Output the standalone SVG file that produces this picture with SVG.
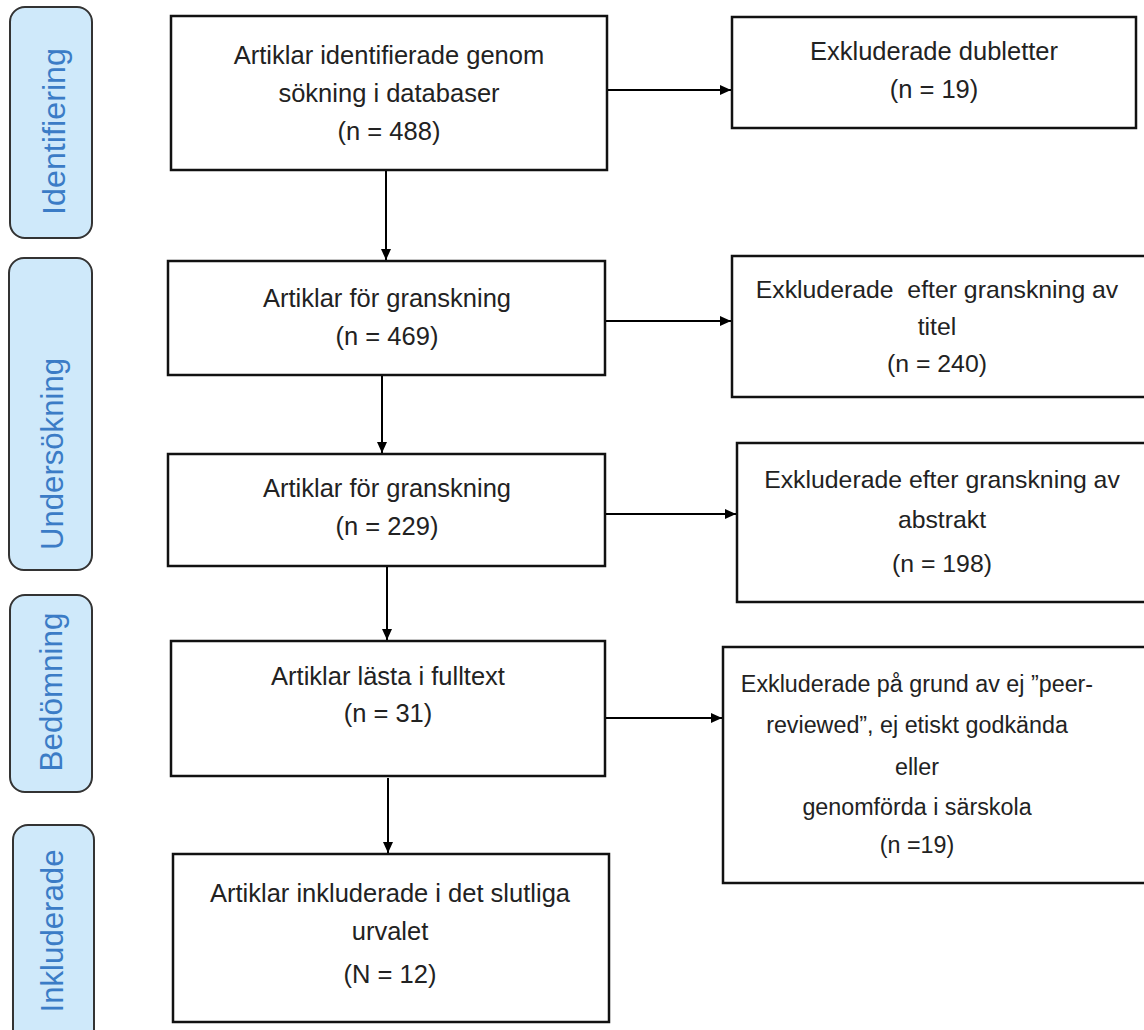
<svg xmlns="http://www.w3.org/2000/svg" width="1144" height="1030" viewBox="0 0 1144 1030">
<defs>
<style>
.box{fill:#fff;stroke:#111;stroke-width:2.5}
.lab{fill:#cfe9fa;stroke:#333;stroke-width:2}
.t{font-family:"Liberation Sans",Arial,sans-serif;font-size:25.5px;fill:#222;text-anchor:middle}
.s{font-size:24.8px}
.xs{font-size:23.3px}
.lt{font-family:"Liberation Sans",Arial,sans-serif;font-size:32px;fill:#3b7cc6;text-anchor:middle}
.c{stroke:#000;stroke-width:2;fill:none;marker-end:url(#ah)}
</style>
<marker id="ah" markerUnits="userSpaceOnUse" markerWidth="12" markerHeight="10" refX="11" refY="5" orient="auto">
<path d="M0,0 L11,5 L0,10 z" fill="#000"/>
</marker>
</defs>
<rect width="1144" height="1030" fill="#fff"/>

<g id="label-identifiering">
<rect class="lab" x="10" y="7" width="82" height="231" rx="15"/>
<text class="lt" transform="translate(65,131.5) rotate(-90)" textLength="167" lengthAdjust="spacingAndGlyphs">Identifiering</text>
</g>
<g id="label-undersokning">
<rect class="lab" x="9" y="258" width="83" height="312" rx="15"/>
<text class="lt" transform="translate(63,454) rotate(-90)" textLength="192" lengthAdjust="spacingAndGlyphs">Undersökning</text>
</g>
<g id="label-bedomning">
<rect class="lab" x="10" y="595" width="82" height="197" rx="15"/>
<text class="lt" transform="translate(62,692) rotate(-90)" textLength="159" lengthAdjust="spacingAndGlyphs">Bedömning</text>
</g>
<g id="label-inkluderade">
<rect class="lab" x="13" y="825" width="81" height="225" rx="15"/>
<text class="lt" transform="translate(63,931) rotate(-90)" textLength="163" lengthAdjust="spacingAndGlyphs">Inkluderade</text>
</g>

<g id="box1">
<rect class="box" x="171" y="16" width="436" height="154"/>
<text class="t" x="389" y="64">Artiklar identifierade genom</text>
<text class="t" x="389" y="102">sökning i databaser</text>
<text class="t" x="389" y="140">(n = 488)</text>
</g>
<g id="box2">
<rect class="box" x="168" y="261" width="437" height="114"/>
<text class="t" x="387" y="307">Artiklar för granskning</text>
<text class="t" x="387" y="345">(n = 469)</text>
</g>
<g id="box3">
<rect class="box" x="168" y="454" width="437" height="112"/>
<text class="t" x="387" y="497">Artiklar för granskning</text>
<text class="t" x="387" y="535">(n = 229)</text>
</g>
<g id="box4">
<rect class="box" x="171" y="641" width="434" height="135"/>
<text class="t" x="388" y="685">Artiklar lästa i fulltext</text>
<text class="t" x="388" y="722">(n = 31)</text>
</g>
<g id="box5">
<rect class="box" x="173" y="854" width="436" height="168"/>
<text class="t" x="390" y="902">Artiklar inkluderade i det slutliga</text>
<text class="t" x="390" y="940">urvalet</text>
<text class="t" x="390" y="983">(N = 12)</text>
</g>

<g id="excl1">
<rect class="box" x="732" y="17" width="404" height="111"/>
<text class="t" x="934" y="60">Exkluderade dubletter</text>
<text class="t" x="934" y="98">(n = 19)</text>
</g>
<g id="excl2">
<rect class="box" x="732" y="256" width="420" height="141"/>
<text class="t s" x="937" y="298" xml:space="preserve">Exkluderade  efter granskning av</text>
<text class="t s" x="937" y="335">titel</text>
<text class="t s" x="937" y="372">(n = 240)</text>
</g>
<g id="excl3">
<rect class="box" x="737" y="443" width="415" height="159"/>
<text class="t s" x="942" y="488">Exkluderade efter granskning av</text>
<text class="t s" x="942" y="528">abstrakt</text>
<text class="t s" x="942" y="572">(n = 198)</text>
</g>
<g id="excl4">
<rect class="box" x="723" y="647" width="429" height="236"/>
<text class="t xs" x="917" y="692">Exkluderade på grund av ej ”peer-</text>
<text class="t xs" x="917" y="733">reviewed”, ej etiskt godkända</text>
<text class="t xs" x="917" y="775">eller</text>
<text class="t xs" x="917" y="815">genomförda i särskola</text>
<text class="t xs" x="917" y="853">(n =19)</text>
</g>

<g id="connectors">
<line class="c" x1="386" y1="171" x2="386" y2="260"/>
<line class="c" x1="382" y1="376" x2="382" y2="453"/>
<line class="c" x1="387" y1="567" x2="387" y2="640"/>
<line class="c" x1="388" y1="778" x2="388" y2="853"/>
<line class="c" x1="608" y1="90" x2="731" y2="90"/>
<line class="c" x1="606" y1="321" x2="731" y2="321"/>
<line class="c" x1="606" y1="514" x2="736" y2="514"/>
<line class="c" x1="606" y1="718" x2="722" y2="718"/>
</g>
</svg>
